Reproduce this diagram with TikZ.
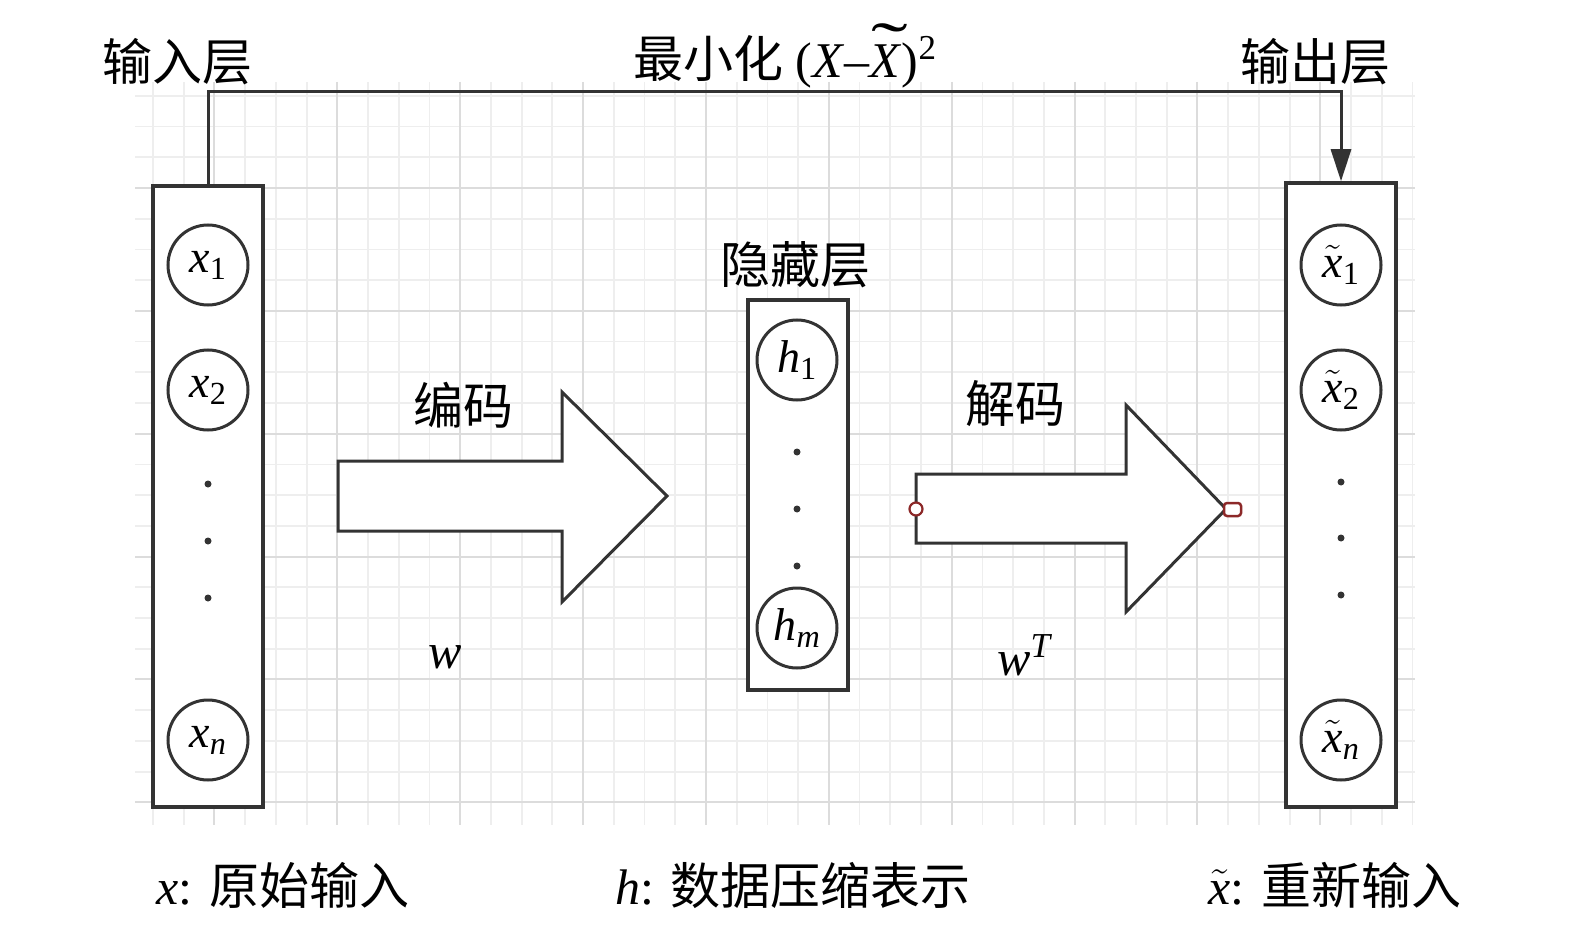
\RequirePackage{fix-cm}
\documentclass[tikz,border=0pt]{standalone}
\usepackage[no-math]{fontspec}
\usepackage{graphicx}
\setmainfont{Liberation Serif}
\newfontfamily\cjk{Noto Sans CJK SC}
\usetikzlibrary{arrows.meta}

\definecolor{inkgray}{RGB}{51,51,51}
\definecolor{gridminor}{RGB}{238,238,238}
\definecolor{gridmajor}{RGB}{220,220,220}
\definecolor{markred}{RGB}{140,40,40}

\newcommand\tlx{\ensuremath{\tilde{\mbox{\itshape x}}}}
\newcommand\tlX{\ooalign{\textit{X}\cr\hidewidth\hspace{0.15em}\raisebox{0.2em}{\scalebox{2.2}[1.3]{˜}}\hidewidth\cr}}

\tikzset{
  layerbox/.style={draw=inkgray,fill=white,line width=3.5,inner sep=0},
  unit/.style={circle,draw=inkgray,fill=white,line width=3,minimum size=80,inner sep=0,font=\fontsize{46}{50}\selectfont},
  lbl/.style={inner sep=0.75,font=\fontsize{50}{54}\selectfont},
  conn/.style={draw=inkgray,line width=3},
  bigarrow/.style={draw=inkgray,fill=white,line width=3,line join=miter}
}

\begin{document}
\begin{tikzpicture}[x=1pt,y=1pt,yscale=-1,xscale=1]
\path[use as bounding box] (0,0) rectangle (1575,931);

%Grid: minor lines
\foreach \k in {0,...,41} \draw[gridminor,line width=1.8] ({153+30.72*\k},82) -- ({153+30.72*\k},825);
\foreach \k in {0,...,23} \draw[gridminor,line width=1.8] (135,{95.8+30.72*\k}) -- (1415,{95.8+30.72*\k});
%Grid: major lines
\foreach \k in {2,6,...,38} \draw[gridmajor,line width=2] ({153+30.72*\k},82) -- ({153+30.72*\k},825);
\foreach \k in {3,7,...,23} \draw[gridmajor,line width=2] (135,{95.8+30.72*\k}) -- (1415,{95.8+30.72*\k});

%Shape: Layer boxes
\node[layerbox,minimum width=110,minimum height=621] (inbox) at (208,496.5) {};
\node[layerbox,minimum width=100,minimum height=390] (hidbox) at (798,495) {};
\node[layerbox,minimum width=110,minimum height=624] (outbox) at (1341,495) {};

%Shape: Units of the input layer
\node[unit] (x1) at (208,265) {\textit{x}\textsubscript{1}};
\node[unit] (x2) at (208,390) {\textit{x}\textsubscript{2}};
\node[unit] (xn) at (208,740) {\textit{x}\textsubscript{\textit{n}}};
\foreach \y in {484,541,598} \fill[inkgray] (208,\y) circle (3.5);

%Shape: Units of the hidden layer
\node[unit] (h1) at (797,360) {\textit{h}\textsubscript{1}};
\node[unit] (hm) at (797,628) {\textit{h}\textsubscript{\textit{m}}};
\foreach \y in {452,509,566} \fill[inkgray] (797,\y) circle (3.5);

%Shape: Units of the output layer
\node[unit] (y1) at (1341,265) {\tlx\textsubscript{1}};
\node[unit] (y2) at (1341,390) {\tlx\textsubscript{2}};
\node[unit] (yn) at (1341,740) {\tlx\textsubscript{\textit{n}}};
\foreach \y in {482,538,595} \fill[inkgray] (1341,\y) circle (3.5);

%Shape: Right Arrow (encode)
\draw[bigarrow] (338,461) -- (562,461) -- (562,392) -- (667,496) -- (562,602) -- (562,531) -- (338,531) -- cycle;
%Shape: Right Arrow (decode)
\draw[bigarrow] (916,474) -- (1126,474) -- (1126,405) -- (1226,509) -- (1126,612) -- (1126,543) -- (916,543) -- cycle;
\draw[markred,line width=2.2,fill=white] (916,509) circle (6.5);
\draw[markred,line width=2.5,fill=white,rounded corners=3] (1224,503) rectangle (1241,516);

%Straight Lines: reconstruction loss
\draw[conn,-{Triangle[length=32,width=20]}] (inbox.north) -- ++(0,-93) -| (outbox.north);

% Text Node
\node[lbl] (inlbl) at (177,62) {\cjk 输入层};
% Text Node
\node[lbl] (losslbl) at (785,62) {{\cjk 最小化} (\textit{X}–\tlX)\textsuperscript{2}};
% Text Node
\node[lbl] (outlbl) at (1315,62) {\cjk 输出层};
% Text Node
\node[lbl] (hidlbl) at (795,265) {\cjk 隐藏层};
% Text Node
\node[lbl] (enclbl) at (463,405) {\cjk 编码};
% Text Node
\node[lbl] (wlbl) at (445,657) {\textit{w}};
% Text Node
\node[lbl] (declbl) at (1015,404) {\cjk 解码};
% Text Node
\node[lbl] (wtlbl) at (1025,655) {\textit{w}\textsuperscript{\textit{T}}};
% Text Node
\node[lbl] (xnote) at (283,885) {\textit{x}: {\cjk 原始输入}};
% Text Node
\node[lbl] (hnote) at (793,885) {\textit{h}: {\cjk 数据压缩表示}};
% Text Node
\node[lbl] (ynote) at (1335,885) {\tlx: {\cjk 重新输入}};

\end{tikzpicture}
\end{document}
